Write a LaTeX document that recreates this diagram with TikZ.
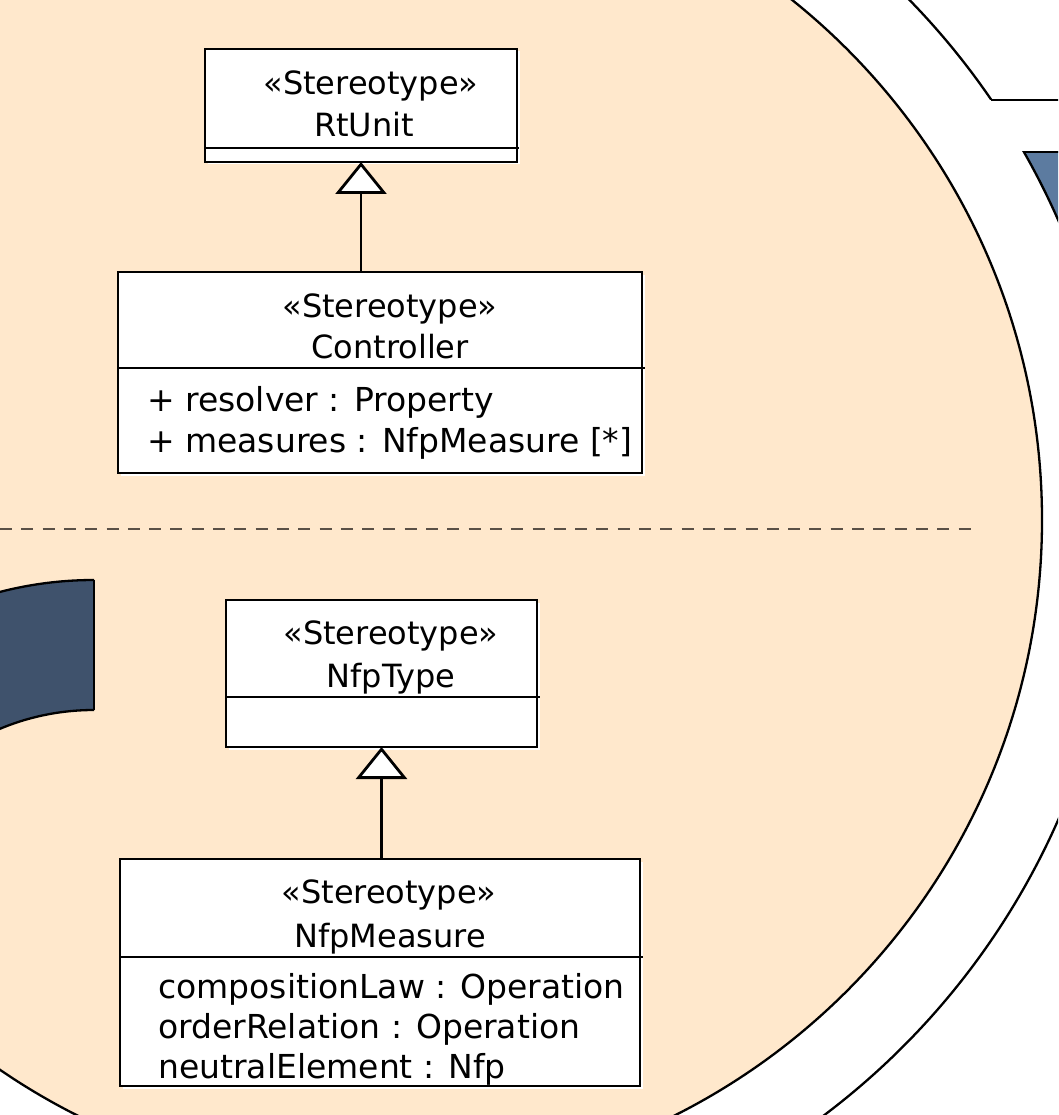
\documentclass[tikz,border=0pt]{standalone}
\usepackage{fontspec}
\setmainfont{DejaVu Sans}
\usetikzlibrary{arrows.meta}
\definecolor{peach}{HTML}{FFE8CC}
\definecolor{slate}{HTML}{3F526C}
\definecolor{steel}{HTML}{5C7BA0}
\definecolor{dashgray}{HTML}{5A5046}
\begin{document}
\begin{tikzpicture}[x=1pt,y=-1pt,
  umlbox/.style={draw=black, fill=white, line width=2.9pt, rectangle, inner sep=0pt, outer sep=0pt, anchor=north west},
  lbl/.style={inner sep=0pt, anchor=base, font=\fontsize{32}{38}\selectfont},
  attr/.style={inner sep=0pt, anchor=base west, font=\fontsize{33}{38}\selectfont},
  sepline/.style={line width=2.9pt},
  gen/.style={line width=2.8pt, -{Triangle[length=32pt,width=51pt,fill=white]}},
  rim/.style={line width=2.3pt},
  shadowfill/.style={fill=white},
]
\useasboundingbox (0,0) rectangle (1058,1115);
\clip (0,0) rectangle (1058,1115);
\fill[white] (0,0) rectangle (1058,1115);
% outer ring, top part
\begin{scope}
  \clip (0,-5) rectangle (1062,100);
  \draw[rim] (376,520) circle (745pt);
\end{scope}
\draw[rim] (991.3,100) -- (1062,100);
% steel shape at top right
\begin{scope}
  \clip (0,152) rectangle (1062,400);
  \fill[steel, even odd rule] (376,520) circle (745pt) (0,0) rectangle (1100,1200);
  \draw[rim] (376,520) circle (745pt);
\end{scope}
\draw[rim] (1023.8,152) -- (1062,152);
% outer ring, bottom part
\begin{scope}
  \clip (0,600) rectangle (1062,1120);
  \draw[rim] (376,520) circle (745pt);
\end{scope}
% peach disc
\draw[rim, fill=peach] (376,520) circle (666pt);
% slate sector at left
\begin{scope}
  \clip (-5,0) rectangle (94,954);
  \fill[slate, even odd rule] (94,954) circle (374pt) (94,954) circle (244pt);
  \draw[rim] (94,954) circle (374pt) (94,954) circle (244pt);
\end{scope}
\draw[rim] (94,580) -- (94,710);
% dashed divider
\draw[dashgray, line width=2pt, dash pattern=on 12pt off 9.3pt] (0,529) -- (973,529);

% RtUnit
\fill[shadowfill] (207.5,51.5) rectangle (519.5,164.5);
\node[umlbox, minimum width=312pt, minimum height=113pt] (rtunit) at (205,49) {};
\draw[sepline] (205,148) -- (519,148);
\node[lbl] (rtst) at (371,95) {«Stereotype»};
\node[lbl] (rtnm) at (364,137) {RtUnit};

% Controller
\fill[shadowfill] (120.5,274.5) rectangle (644.5,475.5);
\node[umlbox, minimum width=524pt, minimum height=201pt] (ctrl) at (118,272) {};
\draw[sepline] (118,368) -- (645,368);
\node[lbl] (ctst) at (390,317) {«Stereotype»};
\node[lbl] (ctnm) at (390,358) {Controller};
\node[attr] (cta1) at (147,411) {+ resolver : Property};
\node[attr] (cta2) at (147,452) {+ measures : NfpMeasure [*]};

% NfpType
\fill[shadowfill] (228.5,602.5) rectangle (539.5,749.5);
\node[umlbox, minimum width=311pt, minimum height=147pt] (nfpt) at (226,600) {};
\draw[sepline] (226,697) -- (540,697);
\node[lbl] (ntst) at (391,644) {«Stereotype»};
\node[lbl] (ntnm) at (391,687) {NfpType};

% NfpMeasure
\fill[shadowfill] (122.5,861.5) rectangle (642.5,1088.5);
\node[umlbox, minimum width=520pt, minimum height=227pt] (nfpm) at (120,859) {};
\draw[sepline] (120,957) -- (643,957);
\node[lbl] (nmst) at (389,903) {«Stereotype»};
\node[lbl] (nmnm) at (390,947) {NfpMeasure};
\node[attr] (nma1) at (158,998) {compositionLaw : Operation};
\node[attr] (nma2) at (158,1038) {orderRelation : Operation};
\node[attr] (nma3) at (158,1078) {neutralElement : Nfp};

% generalizations
\draw[gen] (ctrl.north -| rtunit.south) -- (rtunit.south);
\draw[gen] (nfpm.north -| nfpt.south) -- (nfpt.south);
\end{tikzpicture}
\end{document}
